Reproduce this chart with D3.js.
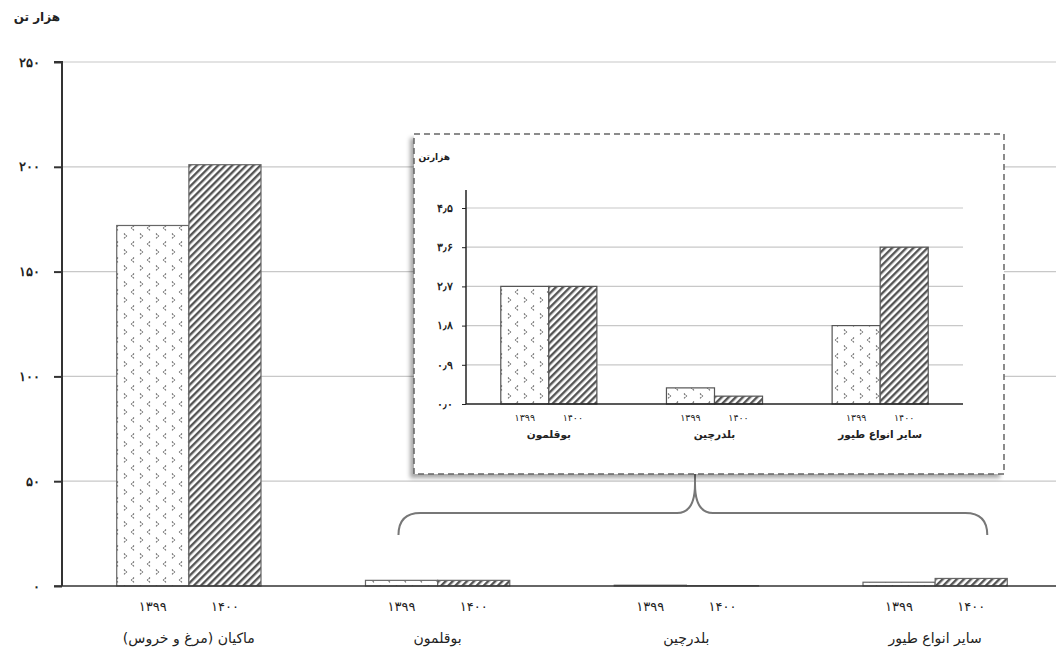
<!DOCTYPE html>
<html>
<head>
<meta charset="utf-8">
<script src="https://cdn.jsdelivr.net/npm/d3@7"></script>
<style>
  body { margin: 0; background: #fff; }
  svg { font-family: "DejaVu Sans", sans-serif; }
  text { fill: #222; }
</style>
</head>
<body>
<div id="chart"></div>
<script>
// data
var categories = ["ماکیان (مرغ و خروس)", "بوقلمون", "بلدرچین", "سایر انواع طیور"];
var years = ["۱۳۹۹", "۱۴۰۰"];
var values1399 = [172, 2.7, 0.37, 1.8];
var values1400 = [201, 2.7, 0.18, 3.6];
var mainTicks = [0, 50, 100, 150, 200, 250];
var mainTickLabels = ["۰", "۵۰", "۱۰۰", "۱۵۰", "۲۰۰", "۲۵۰"];
var insetTicks = [0, 0.9, 1.8, 2.7, 3.6, 4.5];
var insetTickLabels = ["۰٫۰", "۰٫۹", "۱٫۸", "۲٫۷", "۳٫۶", "۴٫۵"];
var unitLabel = "هزار تن";

var svgWidth = 1056;
var svgHeight = 659;

var svg = d3.select("#chart")
  .append("svg")
  .attr("width", svgWidth)
  .attr("height", svgHeight);

var defs = svg.append("defs");

// chevron pattern for 1399
var p1 = defs.append("pattern")
  .attr("id", "dots")
  .attr("patternUnits", "userSpaceOnUse")
  .attr("width", 16).attr("height", 16);
p1.append("rect").attr("width", 16).attr("height", 16).attr("fill", "#fff");
["M6,1.5 L3.5,4 L6,6.5", "M12,9.5 L14.5,12 L12,14.5"]
  .forEach(function(d) {
    p1.append("path").attr("d", d).attr("fill", "none")
      .attr("stroke", "#666").attr("stroke-width", 1.1).attr("stroke-dasharray", "1.8,0.8");
  });

// diagonal hatch for 1400
var p2 = defs.append("pattern")
  .attr("id", "hatch")
  .attr("patternUnits", "userSpaceOnUse")
  .attr("width", 5).attr("height", 5)
  .attr("patternTransform", "rotate(45)");
p2.append("rect").attr("width", 5).attr("height", 5).attr("fill", "#fff");
p2.append("rect").attr("width", 2.4).attr("height", 5).attr("fill", "#555");

var shadow = defs.append("filter").attr("id", "shadow")
  .attr("x", "-5%").attr("y", "-5%").attr("width", "110%").attr("height", "110%");
shadow.append("feDropShadow").attr("dx", -4).attr("dy", 4)
  .attr("stdDeviation", 2).attr("flood-color", "#000").attr("flood-opacity", 0.35);

var fills = ["url(#dots)", "url(#hatch)"];

// ---------- main chart ----------
var chartMargin = { left: 62, right: 1062, top: 62, bottom: 586 };

var x0 = d3.scaleBand().domain(categories).range([chartMargin.left, chartMargin.right]).paddingInner(0.42).paddingOuter(0.22);
var x1 = d3.scaleBand().domain(years).range([0, x0.bandwidth()]);
var y = d3.scaleLinear().domain([0, 250]).range([chartMargin.bottom, chartMargin.top]);

// gridlines
svg.append("g")
  .selectAll("line")
  .data(mainTicks.slice(1))
  .enter()
  .append("line")
  .attr("x1", chartMargin.left).attr("x2", chartMargin.right)
  .attr("y1", d => y(d)).attr("y2", d => y(d))
  .attr("stroke", "#c8c8c8").attr("stroke-width", 1.2);

// bars
var barData = [];
categories.forEach(function(c, i) {
  barData.push({ cat: c, year: years[0], v: values1399[i], k: 0 });
  barData.push({ cat: c, year: years[1], v: values1400[i], k: 1 });
});

svg.append("g")
  .selectAll("rect")
  .data(barData)
  .enter()
  .append("rect")
  .attr("x", d => x0(d.cat) + x1(d.year))
  .attr("y", d => y(d.v))
  .attr("width", x1.bandwidth())
  .attr("height", d => y(0) - y(d.v))
  .attr("fill", d => fills[d.k])
  .attr("stroke", "#666").attr("stroke-width", 1.2);

// axes
var leftAxis = d3.axisLeft(y).tickValues(mainTicks)
  .tickFormat((d, i) => mainTickLabels[i]).tickSize(8).tickPadding(14);
var yAxisG = svg.append("g")
  .attr("transform", `translate(${chartMargin.left}, 0)`)
  .call(leftAxis);
yAxisG.select(".domain").attr("stroke", "#333").attr("stroke-width", 2)
  .attr("d", `M-8,${chartMargin.top}H0V${chartMargin.bottom}`);
yAxisG.selectAll(".tick line").attr("stroke", "#333").attr("stroke-width", 2);
yAxisG.selectAll(".tick text").attr("font-size", 13).attr("font-weight", "bold").attr("fill", "#222");

svg.append("line")
  .attr("x1", chartMargin.left - 8).attr("x2", chartMargin.right)
  .attr("y1", chartMargin.bottom).attr("y2", chartMargin.bottom)
  .attr("stroke", "#333").attr("stroke-width", 1.6);

// year labels and category labels
svg.append("g")
  .selectAll("text")
  .data(barData)
  .enter()
  .append("text")
  .attr("x", d => x0(d.cat) + x1(d.year) + x1.bandwidth() / 2)
  .attr("y", 611)
  .attr("text-anchor", "middle")
  .attr("font-size", 13)
  .text(d => d.year);

svg.append("g")
  .selectAll("text")
  .data(categories)
  .enter()
  .append("text")
  .attr("x", d => x0(d) + x0.bandwidth() / 2)
  .attr("y", 643)
  .attr("text-anchor", "middle")
  .attr("font-size", 14)
  .attr("direction", "rtl")
  .text(d => d);

svg.append("text")
  .attr("x", 60).attr("y", 21)
  .attr("text-anchor", "end")
  .attr("font-size", 12)
  .attr("font-weight", "bold")
  .text(unitLabel);

// ---------- brace ----------
var bx1 = x0(categories[1]) + 33, bx2 = x0(categories[3]) + x0.bandwidth() - 20;
var bmid = 695, bTop = 474, bLine = 513, bEnd = 535;
svg.append("path")
  .attr("d", `M${bx1},${bEnd} Q${bx1},${bLine} ${bx1 + 22},${bLine} L${bmid - 18},${bLine} Q${bmid},${bLine} ${bmid},${bTop + 10} L${bmid},${bTop}
             M${bmid},${bTop + 10} Q${bmid},${bLine} ${bmid + 18},${bLine} L${bx2 - 22},${bLine} Q${bx2},${bLine} ${bx2},${bEnd}`)
  .attr("fill", "none").attr("stroke", "#777").attr("stroke-width", 2);

// ---------- inset ----------
var ix = 414, iy = 134, iw = 590, ih = 340;
svg.append("rect")
  .attr("x", ix).attr("y", iy).attr("width", iw).attr("height", ih)
  .attr("fill", "#fff")
  .attr("filter", "url(#shadow)");
svg.append("rect")
  .attr("x", ix).attr("y", iy).attr("width", iw).attr("height", ih)
  .attr("fill", "none")
  .attr("stroke", "#666").attr("stroke-width", 1.5)
  .attr("stroke-dasharray", "6,4");

var iLeft = 466, iRight = 963, iTop = 190, iBottom = 404;
var ix0 = d3.scaleBand().domain(categories.slice(1)).range([iLeft, iRight]).paddingInner(0.42).paddingOuter(0.21);
var ix1 = d3.scaleBand().domain(years).range([0, ix0.bandwidth()]);
var iyScale = d3.scaleLinear().domain([0, 4.5]).range([iBottom, 208]);

svg.append("g")
  .selectAll("line")
  .data(insetTicks.slice(1))
  .enter()
  .append("line")
  .attr("x1", iLeft).attr("x2", iRight)
  .attr("y1", d => iyScale(d)).attr("y2", d => iyScale(d))
  .attr("stroke", "#c8c8c8").attr("stroke-width", 1.2);

var insetData = barData.filter(d => d.cat !== categories[0]);
svg.append("g")
  .selectAll("rect")
  .data(insetData)
  .enter()
  .append("rect")
  .attr("x", d => ix0(d.cat) + ix1(d.year))
  .attr("y", d => iyScale(d.v))
  .attr("width", ix1.bandwidth())
  .attr("height", d => iyScale(0) - iyScale(d.v))
  .attr("fill", d => fills[d.k])
  .attr("stroke", "#555").attr("stroke-width", 1.2);

var iAxis = d3.axisLeft(iyScale).tickValues(insetTicks)
  .tickFormat((d, i) => insetTickLabels[i]).tickSize(4).tickPadding(9);
var iAxisG = svg.append("g")
  .attr("transform", `translate(${iLeft}, 0)`)
  .call(iAxis);
iAxisG.select(".domain").attr("stroke", "#222").attr("stroke-width", 1.5).attr("d", `M0,${iTop}V${iBottom}`);
iAxisG.selectAll(".tick line").attr("stroke", "#222");
iAxisG.selectAll(".tick text").attr("font-size", 10.5).attr("font-weight", "bold").attr("fill", "#222");

svg.append("line")
  .attr("x1", iLeft).attr("x2", iRight)
  .attr("y1", iBottom).attr("y2", iBottom)
  .attr("stroke", "#222").attr("stroke-width", 1.5);

svg.append("g")
  .selectAll("text")
  .data(insetData)
  .enter()
  .append("text")
  .attr("x", d => ix0(d.cat) + ix1(d.year) + ix1.bandwidth() / 2)
  .attr("y", 421)
  .attr("text-anchor", "middle")
  .attr("font-size", 9.5)
  .text(d => d.year);

svg.append("g")
  .selectAll("text")
  .data(categories.slice(1))
  .enter()
  .append("text")
  .attr("x", d => ix0(d) + ix0.bandwidth() / 2)
  .attr("y", 438)
  .attr("text-anchor", "middle")
  .attr("font-size", 10.5)
  .attr("font-weight", "bold")
  .attr("direction", "rtl")
  .text(d => d);

svg.append("text")
  .attr("x", 450).attr("y", 160)
  .attr("text-anchor", "end")
  .attr("font-size", 9)
  .attr("font-weight", "bold")
  .text("هزارتن");
</script>
</body>
</html>
